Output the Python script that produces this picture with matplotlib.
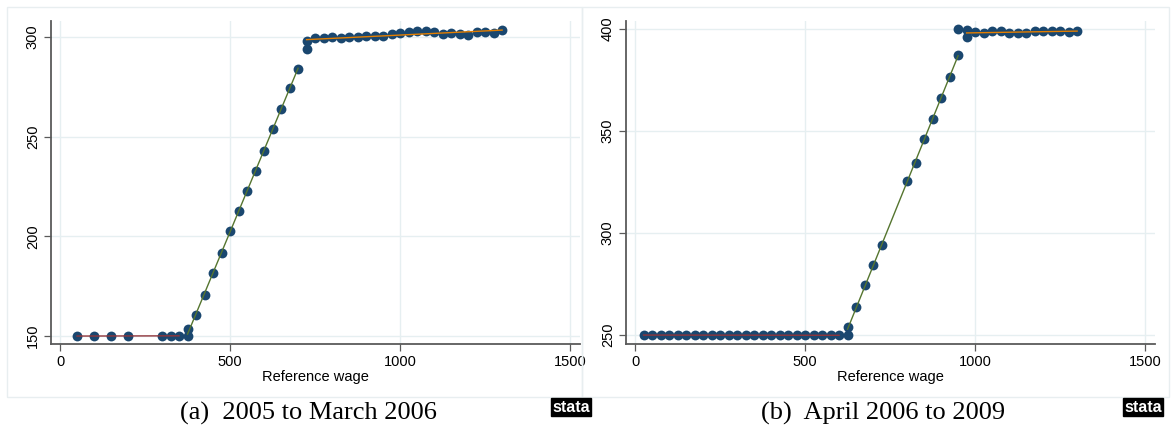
import numpy as np
import matplotlib
matplotlib.use("Agg")
import matplotlib.pyplot as plt
from matplotlib.patches import Rectangle

# panel (a): 2005 to March 2006
a_low_x = [50, 100, 150, 200, 300, 325, 350]
a_low_y = [150, 150, 150, 150, 150.2, 150.1, 150]
a_mid_x = [375, 375, 400, 425, 450, 475, 500, 525, 550, 575, 600, 625, 650, 675, 700]
a_mid_y = [150, 153.3, 160.4, 170.7, 181.6, 191.4, 202.8, 212.8, 222.8, 232.7,
           243.0, 253.7, 263.9, 274.3, 284.1]
a_high_x = [725, 725, 750, 775, 800, 825, 850, 875, 900, 925, 950, 975, 1000,
            1025, 1050, 1075, 1100, 1125, 1150, 1175, 1200, 1225, 1250, 1275, 1300]
a_high_y = [298.0, 294.0, 299.5, 299.7, 300.0, 299.7, 299.8, 299.8, 300.5, 300.5,
            300.7, 301.7, 302.2, 302.5, 303.2, 303.2, 302.7, 301.7, 302.0, 301.5,
            301.2, 302.3, 302.3, 301.8, 303.3]

# panel (b): April 2006 to 2009
b_low_x = [25, 50, 75, 100, 125, 150, 175, 200, 225, 250, 275, 300, 325, 350,
           375, 400, 425, 450, 475, 500, 525, 550, 575, 600]
b_low_y = [250, 250, 250, 250, 250, 250, 250, 250, 250, 249.8, 249.8, 249.8,
           249.9, 250, 249.8, 250, 249.8, 249.8, 250, 250, 249.8, 249.8, 250, 250]
b_mid_x = [625, 625, 650, 675, 700, 725, 800, 825, 850, 875, 900, 925, 950]
b_mid_y = [250, 254.1, 263.7, 274.4, 284.5, 294.3, 325.4, 334.2, 346.3, 356.0,
           366.0, 376.3, 387.4]
b_high_x = [975, 975, 1000, 1025, 1050, 1075, 1100, 1125, 1150, 1175, 1200,
            1225, 1250, 1275, 1300]
b_high_y = [399.5, 396.1, 398.5, 398.0, 399.2, 399.0, 398.2, 398.2, 398.2, 398.9,
            399.0, 399.0, 399.3, 398.4, 399.0]
b_extra_x = [950]
b_extra_y = [400.0]

xticks = [0, 500, 1000, 1500]
a_yticks = [150, 200, 250, 300]
b_yticks = [250, 300, 350, 400]
captions = ["(a)  2005 to March 2006", "(b)  April 2006 to 2009"]

navy = "#1a476f"
seg_colors = ["#90353b", "#55752f", "#e37e00"]
grid_col = "#e6eff1"

W, H = 1172, 433
fig = plt.figure(figsize=(W / 100, H / 100), dpi=100)
fig.patch.set_facecolor("white")


def px_axes(l, r, t, b):
    return fig.add_axes([l / W, 1 - b / H, (r - l) / W, (b - t) / H])


def panel(ax, segs, extra, yticks, ylim):
    allx, ally = [], []
    for sx, sy in segs:
        allx += sx
        ally += sy
    allx += extra[0]
    ally += extra[1]
    ax.scatter(allx, ally, s=50, color=navy, zorder=2, linewidths=0)
    # linear fit per segment
    for (sx, sy), c in zip(segs, seg_colors):
        k, m = np.polyfit(sx, sy, 1)
        xs = np.array([min(sx), max(sx)])
        ax.plot(xs, k * xs + m, color=c, lw=1.0, zorder=3)
    ax.set_xlim(-26.5, 1529)
    ax.set_ylim(*ylim)
    ax.set_xticks(xticks)
    ax.set_yticks(yticks)
    ax.grid(True, color=grid_col, lw=1.0)
    ax.set_axisbelow(True)
    for s in ["top", "right"]:
        ax.spines[s].set_visible(False)
    for s in ["left", "bottom"]:
        ax.spines[s].set_color("#5a5a5a")
        ax.spines[s].set_linewidth(1.3)
    ax.tick_params(length=5, width=0.9, color="#5a5a5a", labelsize=10.5, pad=3)
    for lab in ax.get_yticklabels():
        lab.set_rotation(90)
        lab.set_va("center")
    ax.set_xlabel("Reference wage", fontsize=10.5, labelpad=1)


plt.rcParams["font.family"] = ["Liberation Sans", "DejaVu Sans"]

ax1 = px_axes(51, 580, 21, 344)
panel(ax1, [(a_low_x, a_low_y), (a_mid_x, a_mid_y), (a_high_x, a_high_y)],
      ([], []), a_yticks, (146, 308))
ax2 = px_axes(626, 1155, 21, 344)
panel(ax2, [(b_low_x, b_low_y), (b_mid_x, b_mid_y), (b_high_x, b_high_y)],
      (b_extra_x, b_extra_y), b_yticks, (245.6, 404))

# graph region outlines
for l, r in [(7, 582), (582, 1169)]:
    fig.patches.append(Rectangle((l / W, 1 - 397 / H), (r - l) / W, 390 / H,
                                 transform=fig.transFigure, fill=False,
                                 edgecolor="#e8eef0", lw=1.0))

for cx, txt in zip([308, 883], captions):
    fig.text(cx / W, 1 - 413 / H, txt, ha="center", va="center",
             fontsize=19, family="Liberation Serif")

for cx in [571, 1143]:
    fig.text(cx / W, 1 - 407 / H, "stata", ha="center", va="center",
             fontsize=11.5, color="white", weight="bold",
             bbox=dict(boxstyle="square,pad=0.1", fc="black", ec="black"))

fig.savefig("out.png", dpi=100)
